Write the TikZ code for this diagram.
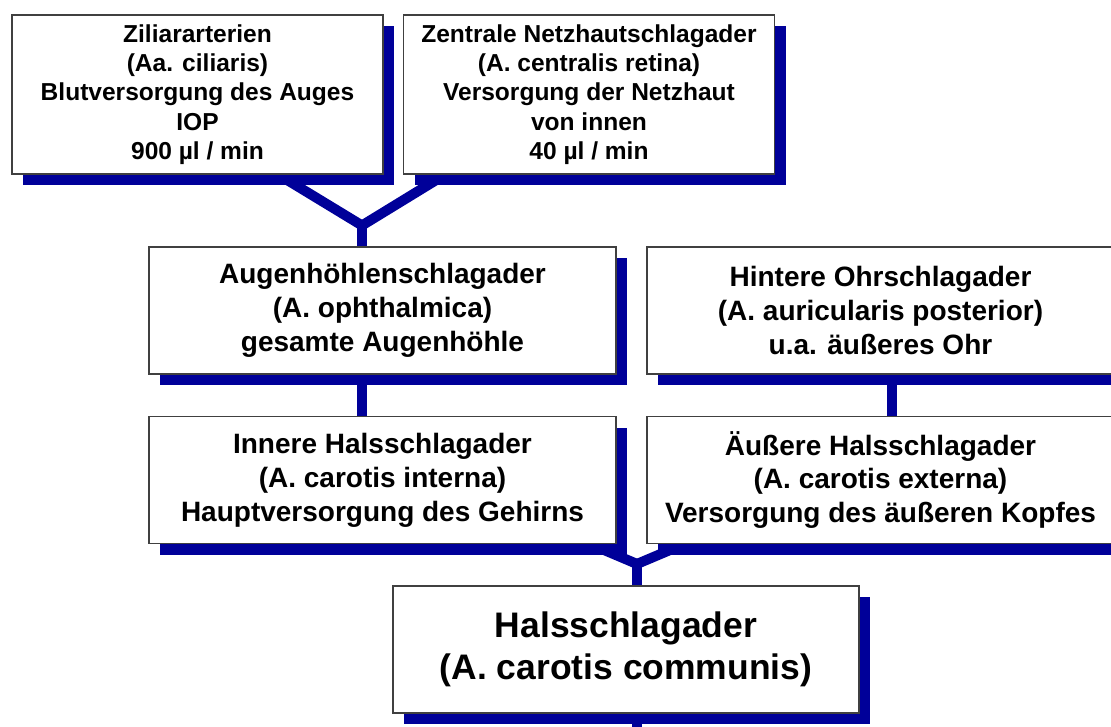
\documentclass[tikz,border=0pt]{standalone}
\usepackage{fontspec}
\setmainfont{Liberation Sans}
\usepackage{tikz}
\usetikzlibrary{shadows, backgrounds, calc}

\definecolor{vesselblue}{RGB}{0,0,153}

\tikzset{
  artery/.style={draw=black!75, line width=0.8pt, fill=white, align=center,
    inner sep=0pt, minimum width=350.25pt, minimum height=95.25pt,
    font=\fontsize{21}{25.4}\selectfont\bfseries,
    drop shadow={shadow xshift=8.25pt, shadow yshift=-8.25pt,
      fill=vesselblue, opacity=1}},
  artery top/.style={artery, minimum width=278.25pt, minimum height=119.25pt,
    font=\fontsize{18.4}{21.9}\selectfont\bfseries},
  artery main/.style={artery, minimum width=349.5pt,
    font=\fontsize{26.6}{31.5}\selectfont\bfseries},
  vessel/.style={draw=vesselblue, line width=7.5pt}
}

\begin{document}
\begin{tikzpicture}
	[x=0.75pt, y=-0.75pt]
   \useasboundingbox (0,0) rectangle (1111,726);
   \node[artery top] (zili) at (197.5,94.5)
     {Ziliararterien\\(Aa. ciliaris)\\Blutversorgung des Auges\\IOP\\900 µl / min};
   \node[artery top] (netz) at (589,94.5)
     {Zentrale Netzhautschlagader\\(A. centralis retina)\\Versorgung der Netzhaut\\von innen\\40 µl / min};
   \node[artery] (augen) at (382.5,310.5)
     {Augenhöhlenschlagader\\(A. ophthalmica)\\gesamte Augenhöhle};
   \node[artery] (ohr) at (880.5,310.5)
     {Hintere Ohrschlagader\\(A. auricularis posterior)\\u.a. äußeres Ohr};
   \node[artery] (interna) at (382.5,480)
     {Innere Halsschlagader\\(A. carotis interna)\\Hauptversorgung des Gehirns};
   \node[artery] (externa) at (880.5,480)
     {Äußere Halsschlagader\\(A. carotis externa)\\Versorgung des äußeren Kopfes};
   \node[artery main] (communis) at (626,649.5)
     {Halsschlagader\\(A. carotis communis)};

   \coordinate (topjoin) at ($(augen.north)+(-20.5,-21)$);
   \coordinate (bjoin) at ($(communis.north)+(11,-21.5)$);

   % vessels run behind the boxes and their shadows
   \begin{scope}[on background layer]
    \path[vessel]
    (topjoin)
          edge ($(zili.south)+(0,-49)$)
          edge ($(netz.south)+(0,-88)$)
          edge (topjoin |- interna.center)
    ($(ohr.center)+(11.5,0)$)
          edge ($(externa.center)+(11.5,0)$)
    (bjoin)
          edge ($(interna.south)+(0,-88)$)
          edge ($(externa.south)+(0,-83)$)
          edge ($(communis.south)+(11,40)$);
   \end{scope}
\end{tikzpicture}
\end{document}
